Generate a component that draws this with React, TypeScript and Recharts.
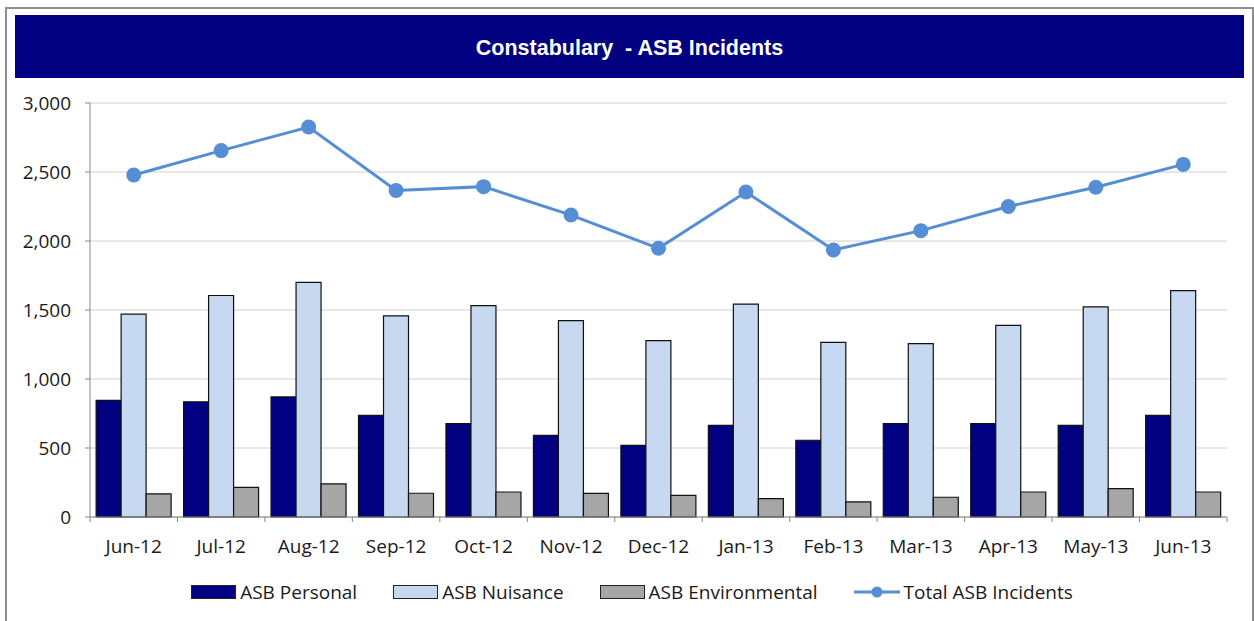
import React from "react";
import {
  ComposedChart,
  Bar,
  Line,
  XAxis,
  YAxis,
  CartesianGrid,
} from "recharts";

const months = [
  "Jun-12", "Jul-12", "Aug-12", "Sep-12", "Oct-12", "Nov-12", "Dec-12",
  "Jan-13", "Feb-13", "Mar-13", "Apr-13", "May-13", "Jun-13",
];
const personal = [845, 835, 870, 737, 676, 592, 519, 664, 556, 676, 676, 664, 737];
const nuisance = [1470, 1605, 1700, 1458, 1531, 1423, 1278, 1543, 1266, 1256, 1389, 1522, 1640];
const environmental = [167, 215, 240, 172, 181, 171, 157, 133, 109, 143, 181, 205, 181];
const total = [2478, 2655, 2826, 2366, 2394, 2188, 1947, 2355, 1935, 2075, 2250, 2390, 2555];
const yTicks = [0, 500, 1000, 1500, 2000, 2500, 3000];

const data = months.map((month, i) => ({
  month,
  personal: personal[i],
  nuisance: nuisance[i],
  environmental: environmental[i],
  total: total[i],
}));

const W = 1254;
const H = 621;
const LEFT = 90;
const RIGHT = 27;
const STEP = (W - LEFT - RIGHT) / months.length;
const FONT = "'Open Sans', sans-serif";

const fmt = (v: number) => v.toLocaleString("en-US");

// category labels plus the Excel-style boundary tick marks
const MonthTick = (props: any) => {
  const { x, y, payload, index } = props;
  const left = x - STEP / 2;
  return (
    <g>
      <line x1={left} y1={y} x2={left} y2={y + 5} stroke="#868686" />
      {index === months.length - 1 && (
        <line x1={left + STEP} y1={y} x2={left + STEP} y2={y + 5} stroke="#868686" />
      )}
      <text
        x={x}
        y={y + 36}
        textAnchor="middle"
        fontFamily={FONT}
        fontSize={19}
        fill="#1a1a1a"
      >
        {payload.value}
      </text>
    </g>
  );
};

const legendItems = [
  { label: "ASB Personal", color: "#000080", type: "bar" },
  { label: "ASB Nuisance", color: "#C6D9F1", type: "bar" },
  { label: "ASB Environmental", color: "#A6A6A6", type: "bar" },
  { label: "Total ASB Incidents", color: "#558ED5", type: "line" },
];

const App = () => {
  return (
    <div
      style={{
        position: "absolute",
        left: 0,
        top: 0,
        width: W,
        height: H,
        background: "#fff",
        overflow: "hidden",
        fontFamily: FONT,
      }}
    >
      <div
        style={{
          position: "absolute",
          left: 5,
          top: 7,
          width: 1245,
          height: 640,
          border: "2px solid #8e8e8e",
        }}
      />
      <div
        style={{
          position: "absolute",
          left: 15,
          top: 15,
          width: 1229,
          height: 63,
          background: "#000080",
          color: "#fff",
          fontFamily: "'Liberation Sans', Arial, sans-serif",
          fontWeight: "bold",
          fontSize: 21.5,
          lineHeight: "67px",
          textAlign: "center",
          whiteSpace: "pre",
          overflow: "hidden",
        }}
      >
        {"Constabulary  - ASB Incidents"}
      </div>

      <div style={{ position: "absolute", left: 0, top: 0 }}>
        <ComposedChart
          width={W}
          height={H}
          data={data}
          margin={{ top: 103, right: RIGHT, left: 0, bottom: 64 }}
          barCategoryGap="7%"
          barGap={0}
        >
          <CartesianGrid vertical={false} stroke="#d0d0d0" />
          <XAxis
            dataKey="month"
            height={40}
            axisLine={{ stroke: "#868686" }}
            tickLine={false}
            tickSize={0}
            tickMargin={0}
            interval={0}
            tick={<MonthTick />}
          />
          <YAxis
            width={LEFT}
            domain={[0, 3000]}
            ticks={yTicks}
            tickFormatter={fmt}
            axisLine={{ stroke: "#868686" }}
            tickLine={{ stroke: "#868686" }}
            tickSize={5}
            tickMargin={14}
            tick={{ fontFamily: FONT, fontSize: 19, fill: "#1a1a1a" }}
          />
          <Bar
            dataKey="personal"
            fill="#000080"
            stroke="#111"
            strokeWidth={1.2}
            isAnimationActive={false}
          />
          <Bar
            dataKey="nuisance"
            fill="#C6D9F1"
            stroke="#111"
            strokeWidth={1.2}
            isAnimationActive={false}
          />
          <Bar
            dataKey="environmental"
            fill="#A6A6A6"
            stroke="#111"
            strokeWidth={1.2}
            isAnimationActive={false}
          />
          <Line
            dataKey="total"
            type="linear"
            stroke="#558ED5"
            strokeWidth={3}
            dot={{ r: 7.5, fill: "#558ED5", stroke: "none" }}
            activeDot={false}
            isAnimationActive={false}
          />
        </ComposedChart>
      </div>

      <div
        style={{
          position: "absolute",
          left: 0,
          top: 580,
          width: 1264,
          height: 24,
          display: "flex",
          justifyContent: "center",
          alignItems: "center",
          gap: 36,
          fontSize: 19,
          color: "#1a1a1a",
        }}
      >
        {legendItems.map((item) => (
          <div key={item.label} style={{ display: "flex", alignItems: "center" }}>
            {item.type === "bar" ? (
              <div
                style={{
                  width: 43,
                  height: 12,
                  background: item.color,
                  border: "1.5px solid #222",
                  marginRight: 4,
                }}
              />
            ) : (
              <svg width={46} height={14} style={{ marginRight: 4 }}>
                <line x1={0} y1={7} x2={46} y2={7} stroke={item.color} strokeWidth={3} />
                <circle cx={23} cy={7} r={5.5} fill={item.color} />
              </svg>
            )}
            <span>{item.label}</span>
          </div>
        ))}
      </div>
    </div>
  );
};

export default App;
